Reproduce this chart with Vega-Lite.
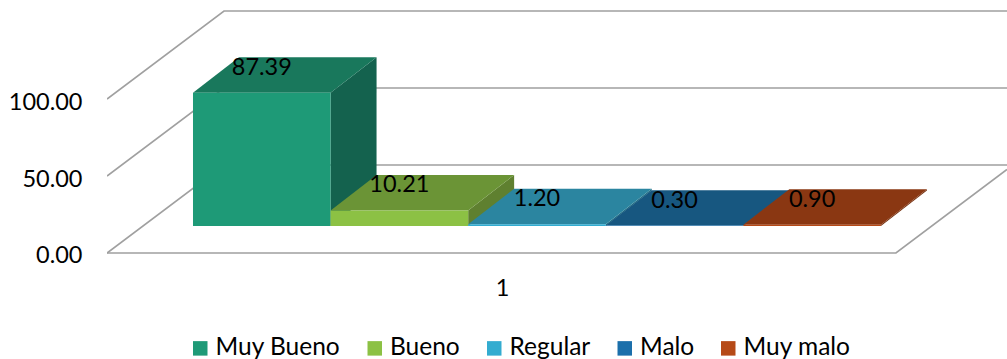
{
  "$schema": "https://vega.github.io/schema/vega-lite/v6.json",
  "width": 900,
  "height": 270,
  "autosize": {"type": "none"},
  "padding": {"left": 107, "right": 0, "top": 0, "bottom": 89},
  "background": "#ffffff",
  "config": {
    "view": {"stroke": null},
    "font": "Lato",
    "axis": {"labelFont": "Lato", "labelFontSize": 23.5, "labelColor": "#000000"},
    "legend": {"labelFont": "Lato", "labelFontSize": 24.5, "labelColor": "#000000"}
  },
  "datasets": {
    "gridEdges": [
      {"edge": "floor-left", "x": -0.625, "y": 0},
      {"edge": "floor-left", "x": 0.2253, "y": 57.14},
      {"edge": "floor-left", "x": 5.916, "y": 57.14},
      {"edge": "mid", "x": -0.625, "y": 50},
      {"edge": "mid", "x": 0.2253, "y": 107.14},
      {"edge": "mid", "x": 5.916, "y": 107.14},
      {"edge": "upper", "x": -0.625, "y": 100},
      {"edge": "upper", "x": 0.2253, "y": 157.14},
      {"edge": "upper", "x": 5.916, "y": 157.14},
      {"edge": "floor-front", "x": -0.625, "y": 0},
      {"edge": "floor-front", "x": 5.109, "y": 0},
      {"edge": "floor-front", "x": 5.916, "y": 54.2}
    ],
    "fronts": [
      {"series": "Muy Bueno", "start": 0, "end": 1, "base": 0, "value": 87.39},
      {"series": "Bueno", "start": 1, "end": 2, "base": 0, "value": 10.21},
      {"series": "Regular", "start": 2, "end": 3, "base": 0, "value": 1.2},
      {"series": "Malo", "start": 3, "end": 4, "base": 0, "value": 0.3},
      {"series": "Muy malo", "start": 4, "end": 5, "base": 0, "value": 0.9}
    ],
    "tops": [
      {"series": "Muy Bueno", "y": 87.39, "left": 0, "right": 1},
      {"series": "Muy Bueno", "y": 110.59, "left": 0.334, "right": 1.334},
      {"series": "Bueno", "y": 10.21, "left": 1, "right": 2},
      {"series": "Bueno", "y": 33.41, "left": 1.334, "right": 2.334},
      {"series": "Regular", "y": 1.2, "left": 2, "right": 3},
      {"series": "Regular", "y": 24.4, "left": 2.334, "right": 3.334},
      {"series": "Malo", "y": 0.3, "left": 3, "right": 4},
      {"series": "Malo", "y": 23.5, "left": 3.334, "right": 4.334},
      {"series": "Muy malo", "y": 0.9, "left": 4, "right": 5},
      {"series": "Muy malo", "y": 24.1, "left": 4.334, "right": 5.334}
    ],
    "sides": [
      {"series": "Muy Bueno", "x": 1, "low": 0, "high": 87.39},
      {"series": "Muy Bueno", "x": 1.334, "low": 23.2, "high": 110.59},
      {"series": "Bueno", "x": 2, "low": 0, "high": 10.21},
      {"series": "Bueno", "x": 2.334, "low": 23.2, "high": 33.41},
      {"series": "Regular", "x": 3, "low": 0, "high": 1.2},
      {"series": "Regular", "x": 3.334, "low": 23.2, "high": 24.4},
      {"series": "Malo", "x": 4, "low": 0, "high": 0.3},
      {"series": "Malo", "x": 4.334, "low": 23.2, "high": 23.5},
      {"series": "Muy malo", "x": 5, "low": 0, "high": 0.9},
      {"series": "Muy malo", "x": 5.334, "low": 23.2, "high": 24.1}
    ],
    "labels": [
      {"series": "Muy Bueno", "center": 0.5, "value": 87.39},
      {"series": "Bueno", "center": 1.5, "value": 10.21},
      {"series": "Regular", "center": 2.5, "value": 1.2},
      {"series": "Malo", "center": 3.5, "value": 0.3},
      {"series": "Muy malo", "center": 4.5, "value": 0.9}
    ]
  },
  "resolve": {"scale": {"x": "independent", "y": "independent", "color": "independent"}},
  "layer": [
    {
      "data": {"name": "gridEdges"},
      "mark": {"type": "line", "color": "#a0a0a0", "strokeWidth": 1.7, "clip": true},
      "encoding": {
        "x": {
          "field": "x",
          "type": "quantitative",
          "scale": {"domain": [-0.625, 5.916], "nice": false, "zero": false},
          "axis": {
            "values": [2.246],
            "labelExpr": "'1'",
            "title": null,
            "domain": false,
            "ticks": false,
            "grid": false,
            "labelPadding": 6
          }
        },
        "y": {
          "field": "y",
          "type": "quantitative",
          "scale": {"domain": [-11.04, 164.29], "nice": false, "zero": false},
          "axis": {
            "values": [0, 50, 100],
            "format": ".2f",
            "title": null,
            "domain": false,
            "ticks": false,
            "grid": false,
            "labelPadding": 25,
            "labelOffset": 3
          }
        },
        "detail": {"field": "edge"}
      }
    },
    {
      "data": {"name": "sides"},
      "mark": {"type": "area", "orient": "vertical"},
      "encoding": {
        "x": {"field": "x", "type": "quantitative", "scale": {"domain": [-0.625, 5.916], "nice": false, "zero": false}, "axis": null},
        "y": {"field": "low", "type": "quantitative", "stack": null, "scale": {"domain": [-28.85, 148.2], "nice": false, "zero": false}, "axis": null},
        "y2": {"field": "high"},
        "color": {
          "field": "series",
          "type": "nominal",
          "scale": {"domain": ["Muy Bueno", "Bueno", "Regular", "Malo", "Muy malo"], "range": ["#14624e", "#5f8030", "#256f85", "#124a6e", "#76300f"]},
          "legend": null
        }
      }
    },
    {
      "data": {"name": "tops"},
      "mark": {"type": "area", "orient": "horizontal"},
      "encoding": {
        "y": {"field": "y", "type": "quantitative", "scale": {"domain": [-28.85, 148.2], "nice": false, "zero": false}, "axis": null},
        "x": {"field": "left", "type": "quantitative", "stack": null, "scale": {"domain": [-0.625, 5.916], "nice": false, "zero": false}, "axis": null},
        "x2": {"field": "right"},
        "color": {
          "field": "series",
          "type": "nominal",
          "scale": {"domain": ["Muy Bueno", "Bueno", "Regular", "Malo", "Muy malo"], "range": ["#19785c", "#6b9436", "#2b85a0", "#175780", "#8a3712"]},
          "legend": null
        }
      }
    },
    {
      "data": {"name": "fronts"},
      "mark": {"type": "rect"},
      "encoding": {
        "x": {"field": "start", "type": "quantitative", "scale": {"domain": [-0.625, 5.916], "nice": false, "zero": false}, "axis": null},
        "x2": {"field": "end"},
        "y": {"field": "base", "type": "quantitative", "scale": {"domain": [-28.85, 148.2], "nice": false, "zero": false}, "axis": null},
        "y2": {"field": "value"},
        "color": {
          "field": "series",
          "type": "nominal",
          "scale": {"domain": ["Muy Bueno", "Bueno", "Regular", "Malo", "Muy malo"], "range": ["#1e9a77", "#8cc144", "#33acd0", "#1b6fab", "#b64a17"]},
          "legend": {
            "title": null,
            "orient": "none",
            "legendX": 81,
            "legendY": 336,
            "direction": "horizontal",
            "columns": 5,
            "columnPadding": 21.5,
            "symbolType": "square",
            "symbolSize": 210,
            "symbolStrokeWidth": 0,
            "labelOffset": 3,
            "labelFontSize": 24.5
          }
        }
      }
    },
    {
      "data": {"name": "labels"},
      "mark": {"type": "text", "dy": -25, "fontSize": 23.5, "font": "Lato", "color": "#000000", "align": "center", "baseline": "middle"},
      "encoding": {
        "x": {"field": "center", "type": "quantitative", "scale": {"domain": [-0.625, 5.916], "nice": false, "zero": false}, "axis": null},
        "y": {"field": "value", "type": "quantitative", "scale": {"domain": [-28.85, 148.2], "nice": false, "zero": false}, "axis": null},
        "text": {"field": "value", "type": "quantitative", "format": ".2f"}
      }
    }
  ]
}
